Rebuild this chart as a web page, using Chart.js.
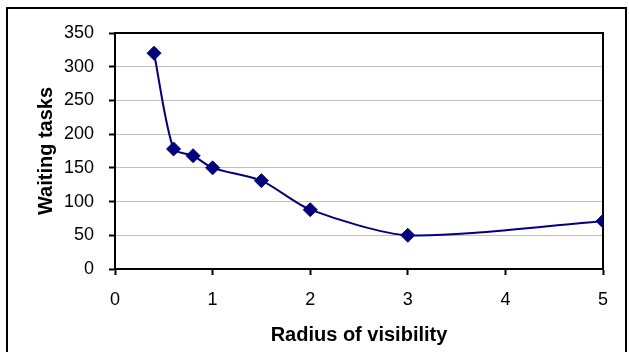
<!DOCTYPE html>
<html>
<head>
<meta charset="utf-8">
<script src="https://cdn.jsdelivr.net/npm/chart.js@4/dist/chart.umd.min.js"></script>
<style>
  html, body { margin: 0; padding: 0; background: #fff; }
  #wrap { width: 629px; height: 352px; position: relative; }
</style>
</head>
<body>
<div id="wrap"><canvas id="c" width="629" height="352"></canvas></div>
<script>
const radius = [0.4, 0.6, 0.8, 1, 1.5, 2, 3, 5];
const waitingTasks = [320, 178, 168, 150, 131, 88, 50, 71];
const xTicks = [0, 1, 2, 3, 4, 5];
const yTicks = [0, 50, 100, 150, 200, 250, 300, 350];
const xTitle = 'Radius of visibility';
const yTitle = 'Waiting tasks';

const FONT = "'Liberation Sans', Arial, sans-serif";
const NAVY = '#000080';

const frame = {
  id: 'frame',
  beforeDraw(chart) {
    const ctx = chart.ctx;
    ctx.save();
    ctx.strokeStyle = '#000';
    ctx.lineWidth = 2;
    ctx.strokeRect(7, 8, 619, 360);
    ctx.restore();
  },
  beforeDatasetsDraw(chart) {
    const a = chart.chartArea;
    const ctx = chart.ctx;
    ctx.save();
    ctx.strokeStyle = '#000';
    ctx.lineWidth = 2;
    ctx.strokeRect(a.left, a.top, a.right - a.left, a.bottom - a.top);
    ctx.restore();
  }
};

new Chart(document.getElementById('c'), {
  type: 'line',
  data: {
    datasets: [{
      data: radius.map((x, i) => ({ x: x, y: waitingTasks[i] })),
      borderColor: NAVY,
      backgroundColor: NAVY,
      borderWidth: 2,
      pointStyle: 'rectRot',
      pointRadius: 7,
      pointBorderWidth: 1,
      pointBackgroundColor: NAVY,
      pointBorderColor: NAVY,
      tension: 0.25,
      fill: false
    }]
  },
  options: {
    responsive: false,
    animation: false,
    devicePixelRatio: 1,
    layout: { padding: { top: 33, right: 26, left: 0, bottom: 0 } },
    plugins: { legend: { display: false }, tooltip: { enabled: false } },
    scales: {
      x: {
        type: 'linear',
        min: 0, max: 5,
        afterBuildTicks(s) { s.ticks = xTicks.map(v => ({ value: v })); },
        afterFit(s) { s.height = 83; },
        grid: { drawOnChartArea: false, tickLength: 6, tickColor: '#000', tickWidth: 2 },
        border: { color: '#000', width: 2 },
        ticks: { color: '#000', padding: 14, maxRotation: 0, font: { family: FONT, size: 18 } },
        title: { display: true, text: xTitle, color: '#000', padding: { top: 0, bottom: 5 }, font: { family: FONT, size: 20, weight: 'bold' } }
      },
      y: {
        type: 'linear',
        min: 0, max: 350,
        afterBuildTicks(s) { s.ticks = yTicks.map(v => ({ value: v })); },
        afterFit(s) { s.width = 115; },
        grid: { color: '#c0c0c0', lineWidth: 1, tickLength: 6, tickColor: '#000', tickWidth: 2 },
        border: { color: '#000', width: 2 },
        ticks: { color: '#000', padding: 15, font: { family: FONT, size: 18 } },
        title: { display: true, text: yTitle, color: '#000', padding: { top: 34, bottom: 0 }, font: { family: FONT, size: 20, weight: 'bold' } }
      }
    }
  },
  plugins: [frame]
});
</script>
</body>
</html>
